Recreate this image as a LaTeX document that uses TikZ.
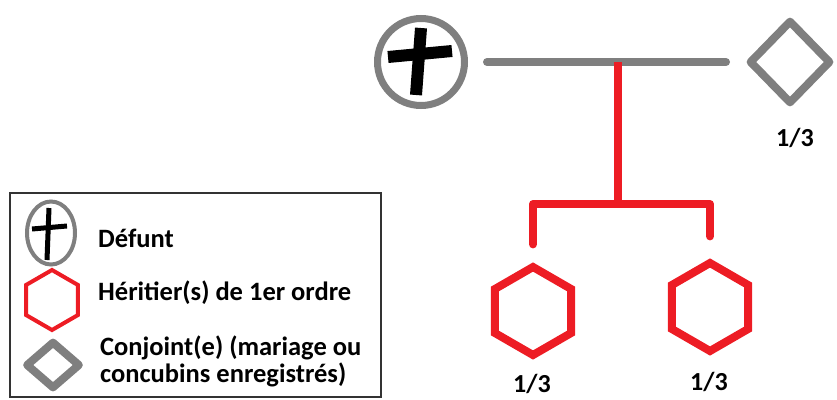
\documentclass[tikz,border=0pt]{standalone}
\usepackage{fontspec}
\setmainfont{Carlito}
\usetikzlibrary{shapes.geometric}
\definecolor{grayc}{RGB}{127,127,127}
\definecolor{redc}{RGB}{237,28,36}
\tikzset{
  redline/.style={line width=8pt, draw=redc, line cap=round},
  grayline/.style={line width=8pt, draw=grayc, line cap=round},
  crossline/.style={draw=black, line cap=butt},
  hexa/.style={regular polygon, regular polygon sides=6, shape border rotate=30, draw=redc, inner sep=0pt},
  share/.style={font=\fontsize{26}{29}\selectfont\bfseries, inner sep=0pt},
  legtext/.style={font=\fontsize{26.5}{29}\selectfont\bfseries, inner sep=0pt, anchor=base west},
}
\begin{document}
\begin{tikzpicture}[x=1pt,y=-1pt]
\useasboundingbox (0,0) rectangle (837,399);
% main figures
\node[circle, draw=grayc, line width=7pt, minimum size=87pt, inner sep=0pt] (defunt) at (421,62) {};
\draw[crossline, line width=12pt] ([shift={(0,-34)}]defunt.center) -- ([shift={(-5,33)}]defunt.center);
\draw[crossline, line width=12pt] ([shift={(-33,-5)}]defunt.center) -- ([shift={(31,-11)}]defunt.center);
\node[diamond, draw=grayc, line width=8pt, line join=round, minimum width=82pt, minimum height=84pt, inner sep=0pt] (conjoint) at (790,62) {};
\node[hexa, line width=8pt, minimum size=88pt] (h1) at (533,311) {};
\node[hexa, line width=8pt, minimum size=88pt] (h2) at (710,307) {};
% connectors
\coordinate (m) at (618,62);
\coordinate (j) at (618,204);
\draw[grayline, shorten <=19pt, shorten >=19pt] (defunt.east) -- (conjoint.west);
\draw[redline, line cap=butt] (m) -- (j);
\draw[redline, line join=round, shorten <=18pt] (h1.north) |- (j);
\draw[redline, line join=round, shorten <=22pt] (h2.north) |- (j);
% shares
\node[share] (s0) at (795,138) {1/3};
\node[share] (s1) at (532,384) {1/3};
\node[share] (s2) at (709,382) {1/3};
% legend
\node[draw=black!80, line width=2pt, minimum width=371pt, minimum height=204pt, inner sep=0pt] (legend) at (195.5,295) {};
\node[ellipse, draw=grayc, line width=4pt, minimum width=48pt, minimum height=63pt, inner sep=0pt] (ld) at (51,233) {};
\draw[crossline, line width=5pt] ([shift={(-2,-25)}]ld.center) -- ([shift={(-4,27)}]ld.center);
\draw[crossline, line width=5pt] ([shift={(-19,-4)}]ld.center) -- ([shift={(16,-7)}]ld.center);
\node[hexa, line width=4pt, minimum size=60pt] (lh) at (52,300) {};
\node[diamond, draw=grayc, line width=8pt, line join=round, minimum width=55pt, minimum height=48pt, inner sep=0pt] (lc) at (53,365) {};
\node[legtext] (t1) at (98,247) {Défunt};
\node[legtext] (t2) at (98,300) {Héritier(s) de 1er ordre};
\node[legtext] (t3) at (100,355) {Conjoint(e) (mariage ou};
\node[legtext] (t4) at (100,382) {concubins enregistrés)};
\end{tikzpicture}
\end{document}
